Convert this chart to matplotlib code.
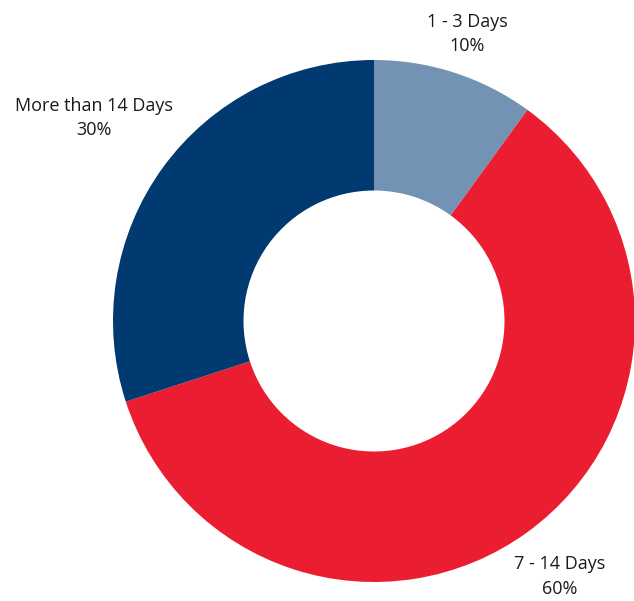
import numpy as np
import matplotlib
matplotlib.use("Agg")
from matplotlib import pyplot as plt

# data
categories = ["1 - 3 Days", "7 - 14 Days", "More than 14 Days"]
shares = [10, 60, 30]
colors = ["#7393B5", "#EB1E31", "#003A70"]
label_dist = [1.157, 1.21, 1.325]

W, H = 634, 601
fig = plt.figure(figsize=(W / 100, H / 100), dpi=100)
ax = fig.add_axes([0, 0, 1, 1])

cx, cy, r = 374, H - 321, 261
wedges, _ = ax.pie(shares, colors=colors, startangle=90, counterclock=False,
                   center=(cx, cy), radius=r,
                   wedgeprops=dict(width=r * 0.5, linewidth=0))

for w, cat, pct, d in zip(wedges, categories, shares, label_dist):
    ang = np.deg2rad((w.theta1 + w.theta2) / 2)
    x = cx + d * r * np.cos(ang)
    y = cy + d * r * np.sin(ang)
    ax.text(x, y, f"{cat}\n{pct}%", ha="center", va="center",
            fontsize=13, family="Open Sans", color="#1a1a1a", linespacing=1.45)

ax.set_xlim(0, W)
ax.set_ylim(0, H)
ax.set_aspect("equal")
ax.axis("off")

plt.savefig("out.png", dpi=100)
